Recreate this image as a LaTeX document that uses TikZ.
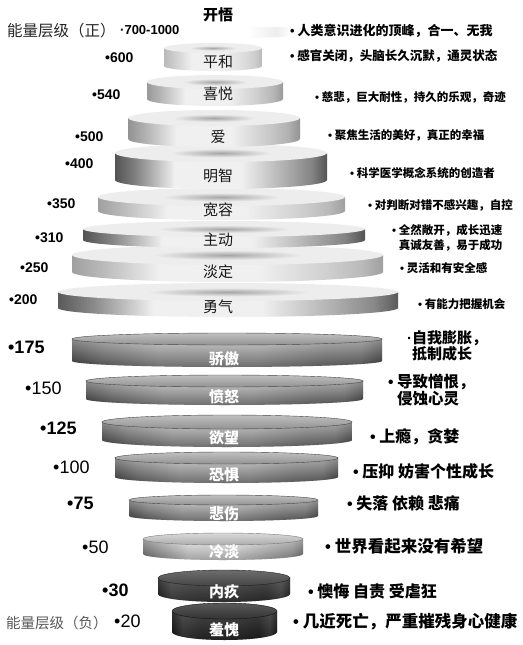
\documentclass[tikz,border=0pt]{standalone}
\usepackage{fontspec}
\setmainfont{Liberation Sans}
\newfontfamily\cjk{Noto Sans CJK SC}
\newfontfamily\lat{Liberation Sans}
\begin{document}
\pgfdeclarehorizontalshading[cylE,cylM,cylL,cylR]{cylup}{100bp}{color(0bp)=(cylE); color(25bp)=(cylE); color(30bp)=(cylM); color(39bp)=(cylL); color(55bp)=(cylL); color(66bp)=(cylR); color(71.5bp)=(cylM); color(75bp)=(cylE); color(100bp)=(cylE)}
\pgfdeclareradialshading[faceC,faceO]{topface}{\pgfpoint{0bp}{0bp}}{color(0bp)=(faceC); color(12bp)=(faceO); color(25bp)=(faceO); color(50bp)=(faceO)}
\newcommand\bul{{\lat •}\ }
\newcommand\UpDisc[9]{%
 \colorlet{cylE}{#6}\colorlet{cylM}{cylE!72!white}\colorlet{cylL}{white!94!black}\colorlet{cylR}{cylE!50!white}%
 \path[shade,shading=cylup] (#1-#2,#3) -- (#1-#2,#5) arc[start angle=180,end angle=360,x radius=#2pt,y radius=#4pt] -- (#1+#2,#3) -- cycle;
 \colorlet{faceC}{gray!70}\colorlet{faceO}{gray!14}%
 \path[shade,shading=topface] (#1,#3) ellipse[x radius=#2pt,y radius=#4pt];
 \node[uplab] (#9) at (218,#8) {#7};
}
\newcommand\SchMid{\colorlet{loTop}{gray!45}\colorlet{loBot}{gray!55!black}\colorlet{loFT}{gray!50}\colorlet{loFB}{gray!85}\colorlet{ovL}{gray!40}}
\newcommand\SchLight{\colorlet{loTop}{gray!25}\colorlet{loBot}{gray!95!black}\colorlet{loFT}{gray!30}\colorlet{loFB}{gray!65}\colorlet{ovL}{white}}
\newcommand\SchDark{\colorlet{loTop}{gray!70!black}\colorlet{loBot}{gray!25!black}\colorlet{loFT}{gray!85!black}\colorlet{loFB}{gray!55!black}\colorlet{ovL}{gray!60!black}}
\newcommand\SchDarker{\colorlet{loTop}{gray!55!black}\colorlet{loBot}{gray!15!black}\colorlet{loFT}{gray!70!black}\colorlet{loFB}{gray!40!black}\colorlet{ovL}{gray!50!black}}
\newcommand\LoDisc[8]{%
 #6%
 \path[top color=loTop, bottom color=loBot] (#1-#2,#3) -- (#1-#2,#5) arc[start angle=180,end angle=360,x radius=#2pt,y radius=#4pt] -- (#1+#2,#3) -- cycle;
 \colorlet{cylE}{black}\colorlet{cylM}{black!60}\colorlet{cylL}{ovL}\colorlet{cylR}{ovL!60!black}%
 \path[shade,shading=cylup,fill opacity=0.3] (#1-#2,#3) -- (#1-#2,#5) arc[start angle=180,end angle=360,x radius=#2pt,y radius=#4pt] -- (#1+#2,#3) -- cycle;
 \path[top color=loFT, bottom color=loFB, draw=loBot, line width=0.4pt] (#1,#3) ellipse[x radius=#2pt,y radius=#4pt];
 \node[lolab] (#8) at (224,{#5-2}) {#7};
}
\begin{tikzpicture}[x=1pt,y=-1pt,
 uplab/.style={font=\cjk\fontsize{15}{15}\selectfont, text=black!90, inner sep=0},
 lolab/.style={font=\cjk\bfseries\fontsize{15}{15}\selectfont, text=white, inner sep=0},
 numU/.style={anchor=west, inner sep=0, font=\bfseries\fontsize{14}{14}\selectfont},
 numB/.style={anchor=west, inner sep=0, font=\bfseries\fontsize{18}{18}\selectfont},
 numR/.style={anchor=west, inner sep=0, font=\fontsize{18}{18}\selectfont},
 rtU/.style={anchor=west, inner sep=0, align=left, font=\cjk\bfseries\fontsize{11.5}{14.5}\selectfont},
 rtL/.style={anchor=west, inner sep=0, align=left, font=\cjk\bfseries\fontsize{16}{17}\selectfont}]
\useasboundingbox (0,0) rectangle (522,645);
\fill[white] (0,0) rectangle (522,645);
% faint top disc
\colorlet{cylE}{gray!6}\colorlet{cylM}{white}\colorlet{cylL}{white}\colorlet{cylR}{gray!14}
\path[shade,shading=cylup] (165,27) -- (165,34) arc[start angle=180,end angle=360,x radius=68pt,y radius=4pt] -- (301,27) -- cycle;
% upper discs, bottom first
\UpDisc{228}{170}{292}{9}{308}{gray!70!black}{勇气}{307}{yongqi}
\UpDisc{227.5}{155.5}{255}{10}{272}{gray!75}{淡定}{272}{danding}
\UpDisc{224}{141}{229}{8}{240}{gray!65!black}{主动}{240}{zhudong}
\UpDisc{221.5}{123.5}{197}{9}{211}{gray!75}{宽容}{210}{kuanrong}
\UpDisc{221}{106}{153}{9}{180}{gray!65!black}{明智}{176}{mingzhi}
\UpDisc{214}{86}{118}{8}{139}{gray!85}{爱}{137}{ai}
\UpDisc{215}{68}{82}{7}{99}{gray!80}{喜悦}{94}{xiyue}
\UpDisc{213}{49}{48}{5}{66}{gray!55}{平和}{62}{pinghe}
\node[font=\cjk\bfseries\fontsize{15}{15}\selectfont, inner sep=0] (kaiwu) at (218,15) {开悟};
% lower discs
\LoDisc{227}{155}{339}{6}{361}{\SchMid}{骄傲}{jiaoao}
\LoDisc{224.5}{138.5}{381}{6}{399}{\SchMid}{愤怒}{fennu}
\LoDisc{227}{125}{422}{7}{440}{\SchMid}{欲望}{yuwang}
\LoDisc{226.5}{111.5}{458}{6}{477}{\SchMid}{恐惧}{kongju}
\LoDisc{223.5}{94.5}{500}{5}{516}{\SchMid}{悲伤}{beishang}
\LoDisc{223}{80}{539}{6}{554}{\SchLight}{冷淡}{lengdan}
\LoDisc{224}{66}{578}{8}{594}{\SchDark}{内疚}{neijiu}
\LoDisc{224.5}{52.5}{611}{8}{632}{\SchDarker}{羞愧}{xiukui}
% left labels
\node[anchor=west, inner sep=0, font=\cjk\fontsize{15.5}{15.5}\selectfont, text=black!85] (zheng) at (7,31) {能量层级（正）};
\node[anchor=west, inner sep=0, font=\bfseries\fontsize{13}{13}\selectfont] (n700) at (120,30) {·700-1000};
\node[numU] (n600) at (105,58) {•600};
\node[numU] (n540) at (92,95) {•540};
\node[numU] (n500) at (75,137) {•500};
\node[numU] (n400) at (65,164) {•400};
\node[numU] (n350) at (47,204) {•350};
\node[numU] (n310) at (35,238) {•310};
\node[numU] (n250) at (20,268) {•250};
\node[numU] (n200) at (9,300) {•200};
\node[numB] (n175) at (8,347) {•175};
\node[numR] (n150) at (25,388) {•150};
\node[numB] (n125) at (40,428) {•125};
\node[numR] (n100) at (53,467) {•100};
\node[numB] (n75) at (67,503) {•75};
\node[numR] (n50) at (82,547) {•50};
\node[numB] (n30) at (102,590) {•30};
\node[anchor=west, inner sep=0, font=\cjk\fontsize{14.5}{14.5}\selectfont, text=black!65] (fu) at (6,623) {能量层级（负）};
\node[numR] (n20) at (114,621) {•20};
% right labels
\node[rtU, font=\cjk\bfseries\fontsize{13}{13}\selectfont] (r1) at (290,31) {\bul 人类意识进化的顶峰，合一、无我};
\node[rtU, font=\cjk\bfseries\fontsize{12.5}{12.5}\selectfont] (r2) at (290,56) {\bul 感官关闭，头脑长久沉默，通灵状态};
\node[rtU] (r3) at (315,97) {\bul 慈悲，巨大耐性，持久的乐观，奇迹};
\node[rtU] (r4) at (328,135) {\bul 聚焦生活的美好，真正的幸福};
\node[rtU] (r5) at (350,173) {\bul 科学医学概念系统的创造者};
\node[rtU] (r6) at (368,205) {\bul 对判断对错不感兴趣，自控};
\node[rtU] (r7) at (392,238) {\bul 全然敞开，成长迅速\\\hphantom{\bul}真诚友善，易于成功};
\node[rtU] (r8) at (400,268) {\bul 灵活和有安全感};
\node[rtU] (r9) at (418,304) {\bul 有能力把握机会};
\node[rtL, font=\cjk\bfseries\fontsize{15}{16}\selectfont] (r10) at (407,346) {{\lat ·}自我膨胀，\\\hphantom{{\lat ·}}抵制成长};
\node[rtL, font=\cjk\bfseries\fontsize{15.5}{17}\selectfont] (r11) at (388,390) {\bul 导致憎恨，\\\hphantom{\bul}侵蚀心灵};
\node[rtL] (r12) at (370,437) {\bul 上瘾，贪婪};
\node[rtL] (r13) at (353,471) {\bul 压抑 妨害个性成长};
\node[rtL] (r14) at (347,503) {\bul 失落 依赖 悲痛};
\node[rtL, font=\cjk\bfseries\fontsize{16.5}{17}\selectfont] (r15) at (325,546) {\bul 世界看起来没有希望};
\node[rtL] (r16) at (308,591) {\bul 懊悔 自责 受虐狂};
\node[rtL, font=\cjk\bfseries\fontsize{16.5}{17}\selectfont] (r17) at (293,622) {\bul 几近死亡，严重摧残身心健康};
\end{tikzpicture}
\end{document}
